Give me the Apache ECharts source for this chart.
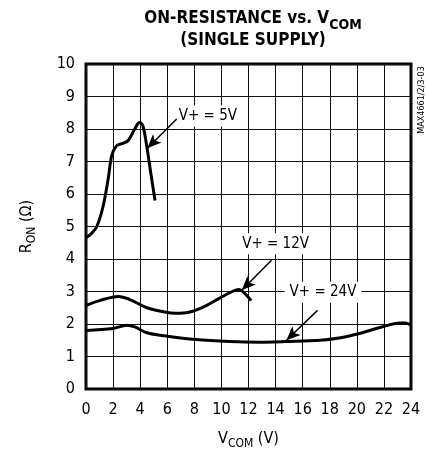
<!DOCTYPE html>
<html>
<head>
<meta charset="utf-8">
<script src="https://cdn.jsdelivr.net/npm/echarts@6/dist/echarts.min.js"></script>
<style>
  html, body { margin: 0; background: #fff; }
  #chart { width: 429px; height: 455px; }
</style>
</head>
<body>
<div id="chart"></div>
<script>
// 读图估值：V+ = 5V / 12V / 24V 三条 RON 曲线
const vcom5 = [0, 0.4, 0.8, 1.25, 1.65, 1.9, 2.25, 2.65, 3.1, 3.6, 3.95, 4.2, 4.5, 4.8, 5.1];
const ron5 = [4.66, 4.78, 5.0, 5.6, 6.5, 7.18, 7.48, 7.55, 7.64, 8.0, 8.2, 8.1, 7.43, 6.6, 5.8];

const vcom12 = [0, 1, 2.4, 3.2, 4.5, 5.9, 6.6, 7.6, 8.8, 9.8, 10.8, 11.3, 11.7, 12.2];
const ron12 = [2.57, 2.72, 2.85, 2.76, 2.5, 2.36, 2.33, 2.36, 2.55, 2.78, 3.0, 3.06, 2.95, 2.72];

const vcom24 = [0, 2, 3, 3.6, 4.5, 5.9, 8.1, 10.6, 12.8, 14.8, 17.3, 18.8, 20.2, 21.7, 23.2, 23.6, 24];
const ron24 = [1.8, 1.86, 1.96, 1.91, 1.73, 1.63, 1.52, 1.46, 1.44, 1.46, 1.5, 1.58, 1.71, 1.89, 2.03, 2.03, 1.96];

const xTicks = [0, 2, 4, 6, 8, 10, 12, 14, 16, 18, 20, 22, 24];
const yTicks = [0, 1, 2, 3, 4, 5, 6, 7, 8, 9, 10];

// 标注：文字位置与箭头（数据坐标）
const noteText = ['V+ = 5V', 'V+ = 12V', 'V+ = 24V'];
const noteAt = [[9.0, 8.4], [14.0, 4.47], [17.5, 2.98]];
const arrowFrom = [[6.7, 8.31], [13.7, 3.96], [17.1, 2.42]];
const arrowTo = [[4.53, 7.41], [11.5, 3.04], [14.8, 1.5]];

const FONT = "'DejaVu Sans Condensed', 'Liberation Sans Narrow', sans-serif";
const zip = (xs, ys) => xs.map((x, i) => [x, ys[i]]);

const curve = (name, xs, ys) => ({
  name, type: 'line', smooth: 0.35, symbol: 'none',
  data: zip(xs, ys),
  lineStyle: { color: '#000', width: 3 },
  z: 3,
});

const subRich = (size, subSize) => ({
  r: { fontFamily: FONT, fontSize: size, color: '#000', lineHeight: 18, verticalAlign: 'top' },
  s: { fontFamily: FONT, fontSize: subSize, color: '#000', lineHeight: 19, verticalAlign: 'bottom' },
});

const chart = echarts.init(document.getElementById('chart'));
chart.setOption({
  animation: false,
  title: {
    left: 248, top: 5, textAlign: 'center',
    text: '{b|ON-RESISTANCE vs. V}{s|COM}\n{b|(SINGLE SUPPLY)}',
    textStyle: {
      rich: {
        b: { fontFamily: FONT, fontWeight: 'bold', fontSize: 17, lineHeight: 21, color: '#000', verticalAlign: 'top' },
        s: { fontFamily: FONT, fontWeight: 'bold', fontSize: 14, lineHeight: 22, color: '#000', verticalAlign: 'bottom' },
      },
    },
  },
  grid: { left: 86, right: 18, top: 64, bottom: 66, show: true, borderColor: '#000', borderWidth: 3 },
  xAxis: {
    type: 'value', min: 0, max: 24, interval: 2,
    name: '{r|V}{s|COM}{r| (V)}', nameLocation: 'middle', nameGap: 42,
    nameTextStyle: { rich: subRich(16, 12) },
    axisLine: { show: false }, axisTick: { show: false },
    axisLabel: { fontFamily: FONT, fontSize: 16, color: '#000', margin: 13,
      formatter: (v) => (xTicks.includes(v) ? String(v) : '') },
    splitLine: { lineStyle: { color: '#111', width: 1 } },
  },
  yAxis: {
    type: 'value', min: 0, max: 10, interval: 1,
    name: '{r|R}{s|ON}{r| (Ω)}', nameLocation: 'middle', nameGap: 48, nameRotate: 90,
    nameTextStyle: { rich: subRich(16, 12) },
    axisLine: { show: false }, axisTick: { show: false },
    axisLabel: { fontFamily: FONT, fontSize: 16, color: '#000', margin: 11,
      formatter: (v) => (yTicks.includes(v) ? String(v) : '') },
    splitLine: { lineStyle: { color: '#111', width: 1 } },
  },
  graphic: [{
    type: 'text', x: 422, y: 100, rotation: Math.PI / 2,
    style: { text: 'MAX4661/2/3-03', font: `9px ${FONT}`, fill: '#000', align: 'center', verticalAlign: 'middle' },
  }],
  series: [
    curve('5V', vcom5, ron5),
    curve('12V', vcom12, ron12),
    curve('24V', vcom24, ron24),
    {
      name: 'notes', type: 'scatter', symbolSize: 0, z: 4,
      itemStyle: { opacity: 1, color: '#000' },
      data: noteAt.map((p, i) => ({ value: p, label: { formatter: noteText[i] } })),
      label: {
        show: true, position: 'inside', fontFamily: FONT, fontSize: 15, color: '#000', opacity: 1,
        textBorderWidth: 0, backgroundColor: '#fff', padding: [3, 5],
      },
      markLine: {
        silent: true, symbol: ['none', 'arrow'], symbolSize: [9, 14],
        lineStyle: { color: '#000', width: 1.5, type: 'solid' },
        label: { show: false },
        data: arrowFrom.map((p, i) => [{ coord: p }, { coord: arrowTo[i] }]),
      },
    },
  ],
});
</script>
</body>
</html>
